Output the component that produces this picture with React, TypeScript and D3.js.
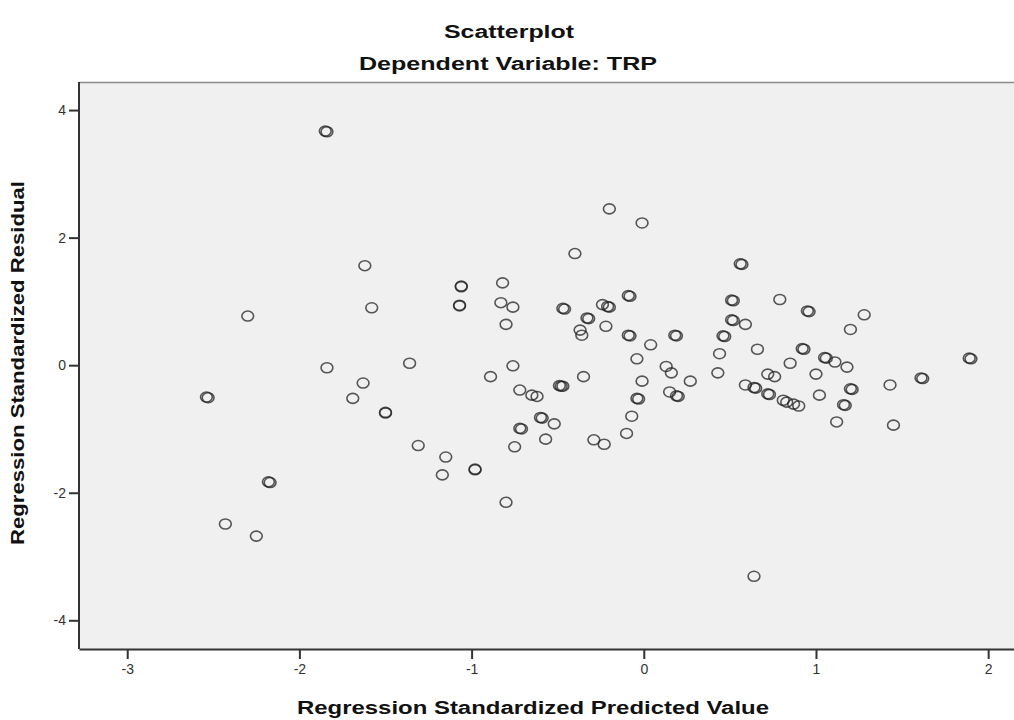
import React, { useRef, useEffect } from "react";
import * as d3 from "d3";

// standardized predicted values (x) and standardized residuals (y)
// cases that sit on top of each other are listed twice
const predicted = [
  -1.85, -1.84, -2.30, -1.84, -2.54, -2.53, -2.18, -2.17, -2.43, -2.25,
  -1.62, -1.58, -1.36, -1.63, -1.69, -1.50, -1.50, -1.31, -1.15, -1.17,
  -0.98, -0.98, -1.06, -1.06, -1.07, -1.07, -0.82, -0.83, -0.76, -0.80,
  -0.40, -0.20, -0.01, -0.47, -0.46, -0.33, -0.32, -0.37, -0.36, -0.24,
  -0.20, -0.21, -0.09, -0.08, -0.22, -0.09, -0.08, 0.04, -0.04, 0.18,
  0.19, 0.13, 0.16, -0.01, 0.15, 0.19, 0.20, -0.04, -0.03, -0.07,
  -0.10, -0.29, -0.23, -0.76, -0.89, -0.72, -0.65, -0.62, -0.49, -0.48,
  -0.47, -0.35, -0.60, -0.59, -0.52, -0.72, -0.71, -0.57, -0.75, -0.80,
  0.56, 0.57, 0.27, 0.51, 0.52, 0.79, 0.95, 0.96, 1.28, 1.20,
  0.51, 0.52, 0.59, 0.46, 0.47, 0.44, 0.66, 0.43, 0.85, 0.92,
  0.93, 1.05, 1.06, 1.11, 1.18, 0.72, 0.76, 1.00, 0.59, 0.64,
  0.65, 0.72, 0.73, 0.81, 0.83, 0.87, 0.90, 1.02, 1.20, 1.21,
  1.16, 1.17, 1.12, 1.43, 1.61, 1.62, 1.89, 1.90, 1.45, 0.64,
];
const residual = [
  3.67, 3.66, 0.77, -0.04, -0.50, -0.51, -1.83, -1.84, -2.49, -2.68,
  1.56, 0.90, 0.03, -0.28, -0.52, -0.74, -0.75, -1.26, -1.44, -1.72,
  -1.63, -1.64, 1.24, 1.23, 0.94, 0.93, 1.29, 0.98, 0.91, 0.64,
  1.75, 2.45, 2.23, 0.89, 0.88, 0.74, 0.73, 0.55, 0.47, 0.95,
  0.91, 0.92, 1.09, 1.08, 0.61, 0.47, 0.46, 0.32, 0.10, 0.47,
  0.46, -0.02, -0.12, -0.25, -0.42, -0.48, -0.49, -0.52, -0.53, -0.80,
  -1.07, -1.17, -1.24, -0.01, -0.18, -0.39, -0.47, -0.49, -0.32, -0.33,
  -0.33, -0.18, -0.82, -0.83, -0.92, -0.99, -1.00, -1.16, -1.28, -2.15,
  1.59, 1.58, -0.25, 1.02, 1.01, 1.03, 0.85, 0.84, 0.79, 0.56,
  0.71, 0.70, 0.64, 0.46, 0.45, 0.18, 0.25, -0.12, 0.03, 0.26,
  0.25, 0.12, 0.11, 0.05, -0.03, -0.14, -0.18, -0.14, -0.31, -0.35,
  -0.36, -0.45, -0.46, -0.55, -0.58, -0.61, -0.64, -0.47, -0.37, -0.38,
  -0.62, -0.63, -0.89, -0.31, -0.20, -0.21, 0.11, 0.10, -0.94, -3.31,
];
const xTicks = [-3, -2, -1, 0, 1, 2];
const yTicks = [-4, -2, 0, 2, 4];

const width = 1014;
const height = 720;

const App = () => {
  const svgRef = useRef(null);

  useEffect(() => {
    const svg = d3.select(svgRef.current);

    const marginLeft = 79;
    const marginRight = 0;
    const marginTop = 82;
    const marginBottom = 71;

    const x = d3.scaleLinear()
      .domain([-3.28, 2.15])
      .range([marginLeft, width - marginRight]);

    const y = d3.scaleLinear()
      .domain([-4.45, 4.44])
      .range([height - marginBottom, marginTop]);

    // grey plot frame
    svg.select(".frame")
      .attr("x", marginLeft)
      .attr("y", marginTop)
      .attr("width", width - marginRight - marginLeft)
      .attr("height", height - marginBottom - marginTop)
      .attr("fill", "#f0f0f0");

    svg.select(".top-line")
      .attr("x1", marginLeft)
      .attr("x2", width - marginRight)
      .attr("y1", marginTop + 0.5)
      .attr("y2", marginTop + 0.5)
      .attr("stroke", "#8a8a8a")
      .attr("stroke-width", 1.5);

    const pts = predicted.map((p, i) => ({ p, r: residual[i] }));

    // the original export is stretched a little sideways, so the markers are slightly wide
    svg.select(".points")
      .selectAll("ellipse")
      .data(pts)
      .join("ellipse")
      .attr("cx", d => x(d.p))
      .attr("cy", d => y(d.r))
      .attr("rx", 5.9)
      .attr("ry", 5.0)
      .attr("fill", "none")
      .attr("stroke", "#222")
      .attr("stroke-opacity", 0.75)
      .attr("stroke-width", 1.6);

    const styleAxis = g => {
      g.select(".domain").attr("stroke", "#333").attr("stroke-width", 2);
      g.selectAll(".tick line").attr("stroke", "#333").attr("stroke-width", 2);
      g.selectAll(".tick text")
        .attr("fill", "#333")
        .attr("font-family", "'Liberation Sans', Arial, sans-serif")
        .attr("font-size", 14);
    };

    svg.select(".x-axis")
      .attr("transform", `translate(0,${height - marginBottom})`)
      .call(d3.axisBottom(x).tickValues(xTicks).tickFormat(d => String(d))
        .tickSize(10).tickSizeOuter(0).tickPadding(5))
      .call(styleAxis);

    svg.select(".y-axis")
      .attr("transform", `translate(${marginLeft},0)`)
      .call(d3.axisLeft(y).tickValues(yTicks).tickFormat(d => String(d))
        .tickSize(10).tickSizeOuter(0).tickPadding(3))
      .call(styleAxis)
      .call(g => g.select(".domain").attr("d", `M0,${marginTop}V${height - marginBottom}`));
  }, []);

  const font = "'Liberation Sans', Arial, sans-serif";

  return (
    <svg ref={svgRef} width={width} height={height} style={{ display: "block", position: "absolute", left: 0, top: 0 }}>
      <rect x={0} y={0} width={width} height={height} fill="#fff" />
      <rect className="frame" />
      <line className="top-line" />
      <g className="points"></g>
      <g className="x-axis"></g>
      <g className="y-axis"></g>
      <text x={509} y={38} textAnchor="middle" fontFamily={font} fontWeight="bold" fontSize={18}
        textLength={130} lengthAdjust="spacingAndGlyphs" fill="#111">
        Scatterplot
      </text>
      <text x={508} y={70} textAnchor="middle" fontFamily={font} fontWeight="bold" fontSize={18}
        textLength={298} lengthAdjust="spacingAndGlyphs" fill="#111">
        Dependent Variable: TRP
      </text>
      <text x={533} y={714} textAnchor="middle" fontFamily={font} fontWeight="bold" fontSize={18}
        textLength={472} lengthAdjust="spacingAndGlyphs" fill="#111">
        Regression Standardized Predicted Value
      </text>
      <text transform="translate(24,363) rotate(-90)" textAnchor="middle" fontFamily={font} fontWeight="bold" fontSize={18}
        textLength={364} lengthAdjust="spacingAndGlyphs" fill="#111">
        Regression Standardized Residual
      </text>
    </svg>
  );
};

export default App;
